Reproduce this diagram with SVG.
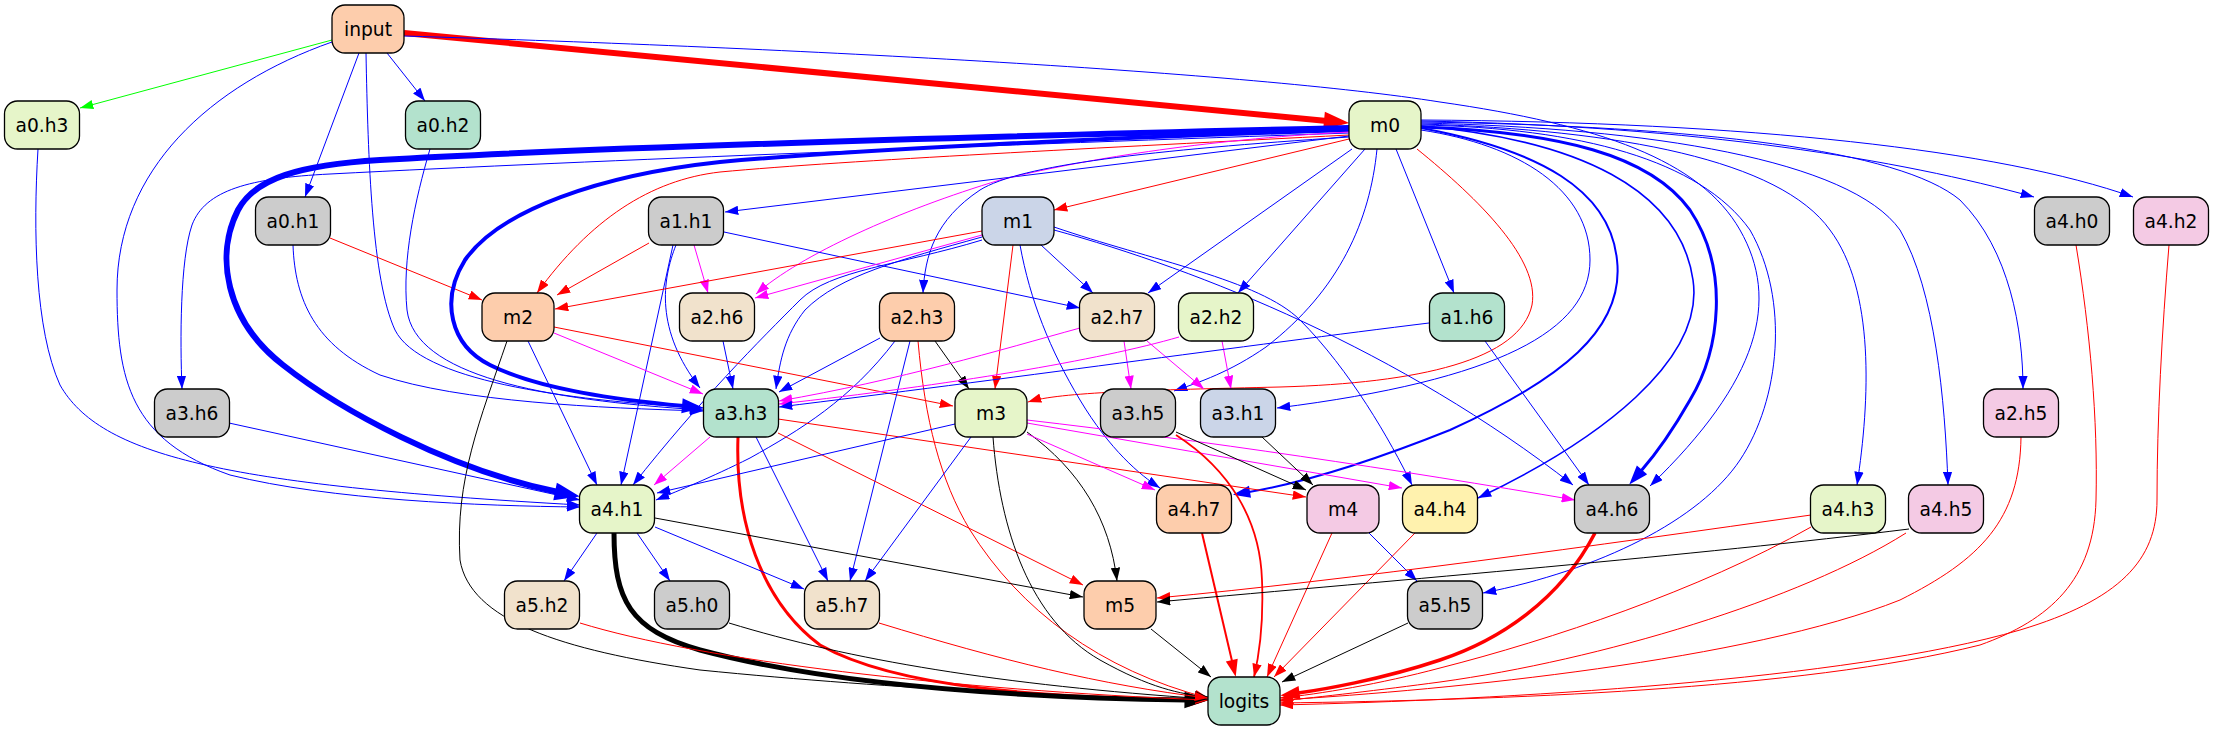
<svg xmlns="http://www.w3.org/2000/svg" width="2213" height="731" viewBox="0 0 2213 731">
<style>
.n rect{stroke:#000;stroke-width:1.3}
.n text{font-family:"DejaVu Sans","Liberation Sans",sans-serif;font-size:18.67px;text-anchor:middle;fill:#000}
.e path{fill:none;stroke-width:1}
.b{stroke:#0000ff;marker-end:url(#ab)}
.r{stroke:#ff0000;marker-end:url(#ar)}
.m{stroke:#ff00ff;marker-end:url(#am)}
.k{stroke:#000000;marker-end:url(#ak)}
.g{stroke:#00ff00;marker-end:url(#ag)}
</style>
<defs>
<marker id="ab" markerUnits="userSpaceOnUse" viewBox="0 0 13.3 9.4" refX="13.3" refY="4.7" markerWidth="13.3" markerHeight="9.4" orient="auto"><path d="M0,0L13.3,4.7L0,9.4z" fill="#0000ff"/></marker>
<marker id="ar" markerUnits="userSpaceOnUse" viewBox="0 0 13.3 9.4" refX="13.3" refY="4.7" markerWidth="13.3" markerHeight="9.4" orient="auto"><path d="M0,0L13.3,4.7L0,9.4z" fill="#ff0000"/></marker>
<marker id="am" markerUnits="userSpaceOnUse" viewBox="0 0 13.3 9.4" refX="13.3" refY="4.7" markerWidth="13.3" markerHeight="9.4" orient="auto"><path d="M0,0L13.3,4.7L0,9.4z" fill="#ff00ff"/></marker>
<marker id="ak" markerUnits="userSpaceOnUse" viewBox="0 0 13.3 9.4" refX="13.3" refY="4.7" markerWidth="13.3" markerHeight="9.4" orient="auto"><path d="M0,0L13.3,4.7L0,9.4z" fill="#000000"/></marker>
<marker id="ag" markerUnits="userSpaceOnUse" viewBox="0 0 13.3 9.4" refX="13.3" refY="4.7" markerWidth="13.3" markerHeight="9.4" orient="auto"><path d="M0,0L13.3,4.7L0,9.4z" fill="#00ff00"/></marker>
<marker id="r6" markerUnits="userSpaceOnUse" refX="0" refY="0" markerWidth="1" markerHeight="1" orient="auto" overflow="visible"><path d="M0,-4.7L13.3,0L0,4.7z" fill="#ff0000" stroke="#ff0000" stroke-width="6"/></marker>
<marker id="b6" markerUnits="userSpaceOnUse" refX="0" refY="0" markerWidth="1" markerHeight="1" orient="auto" overflow="visible"><path d="M0,-4.7L13.3,0L0,4.7z" fill="#0000ff" stroke="#0000ff" stroke-width="6"/></marker>
<marker id="b4" markerUnits="userSpaceOnUse" refX="0" refY="0" markerWidth="1" markerHeight="1" orient="auto" overflow="visible"><path d="M0,-4.7L13.3,0L0,4.7z" fill="#0000ff" stroke="#0000ff" stroke-width="4"/></marker>
<marker id="b3" markerUnits="userSpaceOnUse" refX="0" refY="0" markerWidth="1" markerHeight="1" orient="auto" overflow="visible"><path d="M0,-4.7L13.3,0L0,4.7z" fill="#0000ff" stroke="#0000ff" stroke-width="3"/></marker>
<marker id="b2" markerUnits="userSpaceOnUse" refX="0" refY="0" markerWidth="1" markerHeight="1" orient="auto" overflow="visible"><path d="M0,-4.7L13.3,0L0,4.7z" fill="#0000ff" stroke="#0000ff" stroke-width="2"/></marker>
<marker id="k5" markerUnits="userSpaceOnUse" refX="0" refY="0" markerWidth="1" markerHeight="1" orient="auto" overflow="visible"><path d="M0,-4.7L13.3,0L0,4.7z" fill="#000000" stroke="#000000" stroke-width="5"/></marker>
<marker id="r3" markerUnits="userSpaceOnUse" refX="0" refY="0" markerWidth="1" markerHeight="1" orient="auto" overflow="visible"><path d="M0,-4.7L13.3,0L0,4.7z" fill="#ff0000" stroke="#ff0000" stroke-width="3"/></marker>
<marker id="r2" markerUnits="userSpaceOnUse" refX="0" refY="0" markerWidth="1" markerHeight="1" orient="auto" overflow="visible"><path d="M0,-4.7L13.3,0L0,4.7z" fill="#ff0000" stroke="#ff0000" stroke-width="2"/></marker>
</defs>

<g id="edges" class="e">
<!-- input -->
<path class="g" d="M332,40L80,108"/>
<path class="b" d="M387,53L425,101"/>
<path class="b" d="M359,53L305,197"/>
<path class="r" style="stroke-width:6;marker-end:url(#r6)" d="M404,33L1327,121"/>
<path class="b" d="M366,53C368,160 372,280 395,330C420,380 560,400 703,408"/>
<path class="b" d="M332,42C210,85 117,170 117,290C117,380 130,440 230,475C330,500 480,506 580,507"/>
<path class="b" d="M404,36C800,48 1250,72 1440,102C1600,125 1700,160 1740,230C1780,300 1760,380 1650,486"/>
<!-- a0 -->
<path class="b" d="M38,149C33,230 35,330 60,385C100,455 220,485 580,505"/>
<path class="b" d="M430,149C415,200 402,260 407,310C415,375 540,400 703,410"/>
<path class="r" d="M330,238L482,300"/>
<path class="b" d="M293,245C295,300 315,345 380,375C460,402 600,408 703,411"/>
<!-- m0 -->
<path class="b" style="stroke-width:6;marker-end:url(#b6)" d="M1349,128C1000,136 620,146 380,160C300,165 255,178 238,210C215,255 225,320 283,365C340,410 450,470 558,492"/>
<path class="b" style="stroke-width:4;marker-end:url(#b4)" d="M1349,130C1100,138 850,150 720,162C600,175 500,210 465,260C440,300 450,345 490,365C540,390 620,400 684,406"/>
<path class="b" d="M1349,133C1000,145 600,160 330,174C250,178 205,190 192,225C180,260 180,340 182,389"/>
<path class="r" d="M1349,135C1100,148 850,160 720,172C650,180 590,220 537,293"/>
<path class="b" d="M1349,136L725,212"/>
<path class="r" d="M1349,139L1054,210"/>
<path class="m" d="M1349,132C1200,140 1080,160 1000,180C900,210 800,255 756,294"/>
<path class="b" d="M1349,137C1150,150 1020,165 980,190C935,220 925,255 923,293"/>
<path class="b" d="M1352,149L1148,293"/>
<path class="b" d="M1365,149L1238,293"/>
<path class="b" d="M1377,149C1370,220 1340,290 1266,347C1230,372 1200,382 1174,391"/>
<path class="b" d="M1396,149L1454,293"/>
<path class="r" d="M1417,149C1480,200 1540,260 1532,305C1520,360 1420,383 1280,387C1150,390 1060,392 1028,402"/>
<path class="b" d="M1421,130C1520,145 1590,190 1590,260C1590,330 1500,380 1277,408"/>
<path class="b" style="stroke-width:2;marker-end:url(#b2)" d="M1421,128C1540,150 1610,190 1617,260C1625,330 1560,380 1450,430C1350,470 1290,485 1249,492"/>
<path class="b" style="stroke-width:1.6" d="M1421,126C1580,140 1680,190 1693,280C1705,360 1600,440 1478,498"/>
<path class="b" style="stroke-width:3;marker-end:url(#b3)" d="M1421,127C1560,132 1650,155 1690,210C1730,270 1720,350 1690,400C1670,435 1655,455 1641,471"/>
<path class="b" d="M1421,125C1580,128 1700,160 1750,230C1790,300 1780,400 1740,460C1700,520 1600,570 1483,593"/>
<path class="b" d="M1421,124C1620,130 1780,160 1830,230C1875,290 1870,400 1857,485"/>
<path class="b" d="M1421,123C1650,128 1850,160 1900,230C1935,290 1945,400 1948,485"/>
<path class="b" d="M1421,122C1700,126 1900,150 1960,200C2010,250 2023,330 2023,389"/>
<path class="b" d="M1421,121C1700,126 1900,160 2034,197"/>
<path class="b" d="M1421,120C1750,122 2000,150 2133,197"/>
<!-- a1.h1 -->
<path class="r" d="M649,243L557,295"/>
<path class="m" d="M694,245L708,293"/>
<path class="b" d="M724,232L1080,308"/>
<path class="b" d="M676,245C662,280 655,330 700,388"/>
<path class="b" d="M673,245L621,485"/>
<!-- m1 -->
<path class="r" d="M982,231L555,309"/>
<path class="m" d="M982,235L755,298"/>
<path class="b" d="M1041,245L1093,293"/>
<path class="b" d="M982,237C900,260 840,275 805,310C785,335 780,360 776,389"/>
<path class="b" d="M982,240C900,265 830,270 800,300C760,340 700,400 633,485"/>
<path class="r" d="M1013,245L995,389"/>
<path class="b" d="M1020,245C1030,300 1050,350 1080,400C1110,450 1140,475 1160,488"/>
<path class="b" d="M1054,227C1150,260 1260,280 1300,320C1350,370 1390,440 1412,485"/>
<path class="b" d="M1054,230C1200,270 1400,350 1573,485"/>
<!-- m2 -->
<path class="m" d="M554,333L703,394"/>
<path class="r" d="M554,327L953,406"/>
<path class="b" d="M528,341L597,485"/>
<path class="k" d="M507,341C480,420 455,480 460,560C470,620 560,650 700,670C900,690 1100,698 1208,700"/>
<!-- a2 -->
<path class="b" d="M723,341L733,389"/>
<path class="b" d="M880,338L779,392"/>
<path class="k" d="M935,341L969,389"/>
<path class="b" d="M895,341C850,400 800,430 750,458C710,478 680,490 656,500"/>
<path class="b" d="M910,341L850,581"/>
<path class="r" d="M918,341C925,420 940,480 970,530C1020,610 1100,670 1208,698"/>
<path class="m" d="M1080,328C1000,350 900,380 779,401"/>
<path class="m" d="M1124,341L1131,389"/>
<path class="m" d="M1147,341L1204,389"/>
<path class="m" d="M1222,341L1231,389"/>
<path class="m" d="M1179,337C1100,360 950,385 779,404"/>
<path class="b" d="M1429,323C1250,345 1000,380 779,407"/>
<path class="b" d="M1485,341L1589,485"/>
<!-- a3 -->
<path class="b" d="M229,423L580,500"/>
<path class="m" d="M710,437L654,485"/>
<path class="r" style="stroke-width:3;marker-end:url(#r3)" d="M738,437C735,520 760,600 820,645C900,690 1050,697 1190,700"/>
<path class="b" d="M756,437L828,581"/>
<path class="r" d="M778,433L1083,585"/>
<path class="r" d="M778,419L1306,497"/>
<path class="b" d="M955,424L657,493"/>
<path class="b" d="M971,437L865,581"/>
<path class="k" d="M993,437C1000,530 1030,620 1100,660C1150,688 1180,694 1208,697"/>
<path class="k" d="M1027,432C1080,470 1110,520 1117,581"/>
<path class="m" d="M1027,434L1155,490"/>
<path class="m" d="M1027,423L1402,488"/>
<path class="m" d="M1027,420C1200,440 1400,470 1575,500"/>
<path class="k" d="M1176,432L1306,490"/>
<path class="r" style="stroke-width:1.8" d="M1176,435C1230,470 1260,520 1262,580C1264,630 1258,660 1254,677"/>
<path class="k" d="M1262,437L1313,485"/>
<path class="r" d="M2021,437C2020,520 1980,560 1900,600C1750,660 1450,690 1280,700"/>
<path class="r" d="M2076,245C2090,330 2098,420 2096,500C2094,580 2050,620 1980,645C1800,690 1500,700 1280,703"/>
<path class="r" d="M2169,245C2162,330 2157,420 2157,500C2157,560 2120,600 2020,630C1850,680 1500,700 1280,705"/>
<!-- a4 -->
<path class="b" d="M597,533L564,581"/>
<path class="b" d="M637,533L670,581"/>
<path class="b" d="M655,527L804,589"/>
<path class="k" d="M655,518L1083,597"/>
<path class="k" style="stroke-width:5;marker-end:url(#k5)" d="M614,533C614,600 630,630 700,650C850,690 1050,698 1187,700"/>
<path class="r" style="stroke-width:2;marker-end:url(#r2)" d="M1202,533L1232,661"/>
<path class="r" d="M1332,533L1267,677"/>
<path class="b" d="M1369,533L1417,581"/>
<path class="r" d="M1415,533L1274,677"/>
<path class="r" style="stroke-width:3.5;marker-end:url(#r3)" d="M1595,533C1560,600 1500,640 1440,660C1380,680 1320,690 1298,693"/>
<path class="r" d="M1811,515C1600,545 1350,580 1157,598"/>
<path class="r" d="M1811,527C1700,590 1550,640 1440,668C1380,684 1320,694 1280,698"/>
<path class="k" d="M1909,529C1700,555 1400,580 1157,602"/>
<path class="r" d="M1906,533C1800,600 1600,660 1440,682C1380,690 1320,697 1280,701"/>
<!-- a5 / m5 -->
<path class="r" d="M580,623C700,660 950,690 1208,700"/>
<path class="k" d="M729,623C850,660 1000,685 1208,699"/>
<path class="r" d="M879,623C1000,660 1100,685 1208,698"/>
<path class="k" d="M1151,629L1211,677"/>
<path class="k" d="M1408,623L1282,682"/>
</g>

<g id="input" class="n"><rect x="332" y="5" width="72" height="48" rx="13" fill="#fdcdac"/><text x="368" y="35.5">input</text></g>
<g id="a0.h3" class="n"><rect x="4.5" y="101" width="75" height="48" rx="13" fill="#e6f5c9"/><text x="42" y="131.5">a0.h3</text></g>
<g id="a0.h2" class="n"><rect x="405.5" y="101" width="75" height="48" rx="13" fill="#b3e2cd"/><text x="443" y="131.5">a0.h2</text></g>
<g id="m0" class="n"><rect x="1349" y="101" width="72" height="48" rx="13" fill="#e6f5c9"/><text x="1385" y="131.5">m0</text></g>
<g id="a0.h1" class="n"><rect x="255.5" y="197" width="75" height="48" rx="13" fill="#cccccc"/><text x="293" y="227.5">a0.h1</text></g>
<g id="a1.h1" class="n"><rect x="648.5" y="197" width="75" height="48" rx="13" fill="#cccccc"/><text x="686" y="227.5">a1.h1</text></g>
<g id="m1" class="n"><rect x="982" y="197" width="72" height="48" rx="13" fill="#cbd5e8"/><text x="1018" y="227.5">m1</text></g>
<g id="a4.h0" class="n"><rect x="2034.5" y="197" width="75" height="48" rx="13" fill="#cccccc"/><text x="2072" y="227.5">a4.h0</text></g>
<g id="a4.h2" class="n"><rect x="2133.5" y="197" width="75" height="48" rx="13" fill="#f4cae4"/><text x="2171" y="227.5">a4.h2</text></g>
<g id="m2" class="n"><rect x="482" y="293" width="72" height="48" rx="13" fill="#fdcdac"/><text x="518" y="323.5">m2</text></g>
<g id="a2.h6" class="n"><rect x="679.5" y="293" width="75" height="48" rx="13" fill="#f1e2cc"/><text x="717" y="323.5">a2.h6</text></g>
<g id="a2.h3" class="n"><rect x="879.5" y="293" width="75" height="48" rx="13" fill="#fdcdac"/><text x="917" y="323.5">a2.h3</text></g>
<g id="a2.h7" class="n"><rect x="1079.5" y="293" width="75" height="48" rx="13" fill="#f1e2cc"/><text x="1117" y="323.5">a2.h7</text></g>
<g id="a2.h2" class="n"><rect x="1178.5" y="293" width="75" height="48" rx="13" fill="#e6f5c9"/><text x="1216" y="323.5">a2.h2</text></g>
<g id="a1.h6" class="n"><rect x="1429.5" y="293" width="75" height="48" rx="13" fill="#b3e2cd"/><text x="1467" y="323.5">a1.h6</text></g>
<g id="a3.h6" class="n"><rect x="154.5" y="389" width="75" height="48" rx="13" fill="#cccccc"/><text x="192" y="419.5">a3.h6</text></g>
<g id="a3.h3" class="n"><rect x="703.5" y="389" width="75" height="48" rx="13" fill="#b3e2cd"/><text x="741" y="419.5">a3.h3</text></g>
<g id="m3" class="n"><rect x="955" y="389" width="72" height="48" rx="13" fill="#e6f5c9"/><text x="991" y="419.5">m3</text></g>
<g id="a3.h5" class="n"><rect x="1100.5" y="389" width="75" height="48" rx="13" fill="#cccccc"/><text x="1138" y="419.5">a3.h5</text></g>
<g id="a3.h1" class="n"><rect x="1200.5" y="389" width="75" height="48" rx="13" fill="#cbd5e8"/><text x="1238" y="419.5">a3.h1</text></g>
<g id="a2.h5" class="n"><rect x="1983.5" y="389" width="75" height="48" rx="13" fill="#f4cae4"/><text x="2021" y="419.5">a2.h5</text></g>
<g id="a4.h1" class="n"><rect x="579.5" y="485" width="75" height="48" rx="13" fill="#e6f5c9"/><text x="617" y="515.5">a4.h1</text></g>
<g id="a4.h7" class="n"><rect x="1156.5" y="485" width="75" height="48" rx="13" fill="#fdcdac"/><text x="1194" y="515.5">a4.h7</text></g>
<g id="m4" class="n"><rect x="1307" y="485" width="72" height="48" rx="13" fill="#f4cae4"/><text x="1343" y="515.5">m4</text></g>
<g id="a4.h4" class="n"><rect x="1402.5" y="485" width="75" height="48" rx="13" fill="#fff2ae"/><text x="1440" y="515.5">a4.h4</text></g>
<g id="a4.h6" class="n"><rect x="1574.5" y="485" width="75" height="48" rx="13" fill="#cccccc"/><text x="1612" y="515.5">a4.h6</text></g>
<g id="a4.h3" class="n"><rect x="1810.5" y="485" width="75" height="48" rx="13" fill="#e6f5c9"/><text x="1848" y="515.5">a4.h3</text></g>
<g id="a4.h5" class="n"><rect x="1908.5" y="485" width="75" height="48" rx="13" fill="#f4cae4"/><text x="1946" y="515.5">a4.h5</text></g>
<g id="a5.h2" class="n"><rect x="504.5" y="581" width="75" height="48" rx="13" fill="#f1e2cc"/><text x="542" y="611.5">a5.h2</text></g>
<g id="a5.h0" class="n"><rect x="654.5" y="581" width="75" height="48" rx="13" fill="#cccccc"/><text x="692" y="611.5">a5.h0</text></g>
<g id="a5.h7" class="n"><rect x="804.5" y="581" width="75" height="48" rx="13" fill="#f1e2cc"/><text x="842" y="611.5">a5.h7</text></g>
<g id="m5" class="n"><rect x="1084" y="581" width="72" height="48" rx="13" fill="#fdcdac"/><text x="1120" y="611.5">m5</text></g>
<g id="a5.h5" class="n"><rect x="1407.5" y="581" width="75" height="48" rx="13" fill="#cccccc"/><text x="1445" y="611.5">a5.h5</text></g>
<g id="logits" class="n"><rect x="1208" y="677" width="72" height="48" rx="13" fill="#b3e2cd"/><text x="1244" y="707.5">logits</text></g>
</svg>
